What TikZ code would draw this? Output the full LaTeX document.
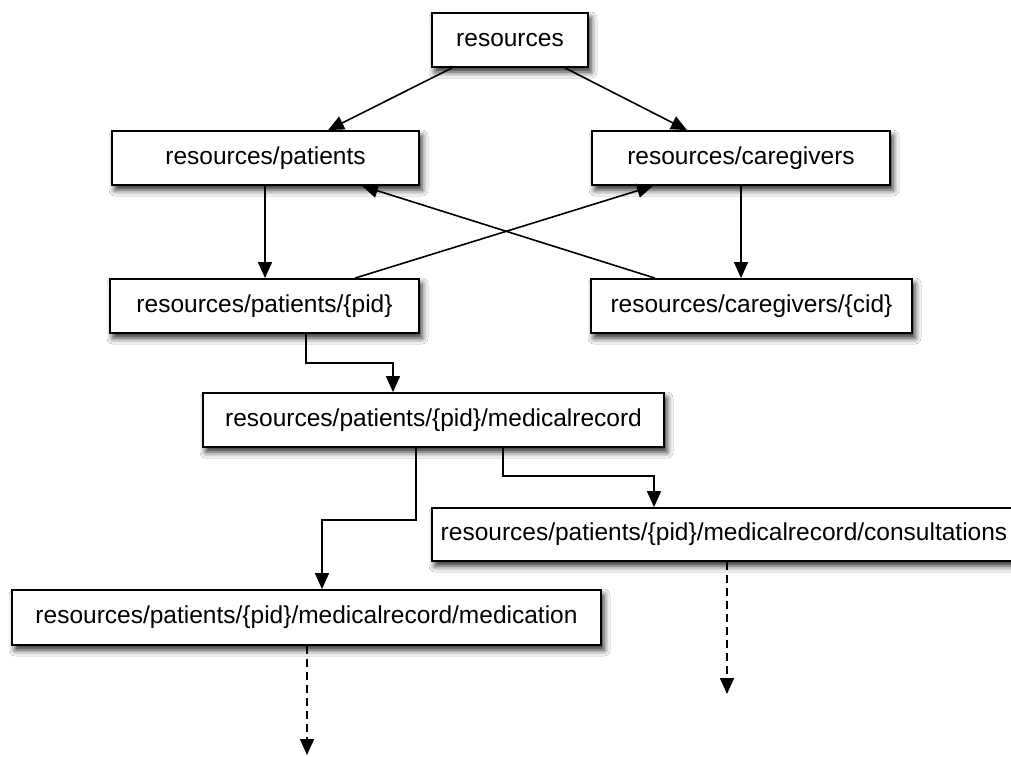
\documentclass[tikz,border=0pt]{standalone}
\usepackage{fontspec}
\setmainfont{Liberation Sans}
\usetikzlibrary{arrows.meta,shadows.blur}
\begin{document}
\begin{tikzpicture}[x=1pt,y=-1pt,
  box/.style={draw=black,line width=1.8pt,fill=white,inner sep=0pt,minimum height=54pt,
    font=\fontsize{24.5}{28}\selectfont,
    blur shadow={shadow xshift=3pt,shadow yshift=-5pt,shadow blur radius=6pt,shadow opacity=85}},
  arr/.style={line width=1.6pt,-{Triangle[length=16pt,width=14pt]}},
  darr/.style={arr,dash pattern=on 8pt off 5pt}]
\useasboundingbox (0,0) rectangle (1011,756);
\fill[white] (0,0) rectangle (1011,756);
\node[box,minimum width=156pt] (res) at (510,40) {resources};
\node[box,minimum width=307pt] (pat) at (265.5,158) {resources/patients};
\node[box,minimum width=298pt] (car) at (741,158) {resources/caregivers};
\node[box,minimum width=309pt] (pid) at (264.5,306) {resources/patients/\{pid\}};
\node[box,minimum width=321pt] (cid) at (751.5,306) {resources/caregivers/\{cid\}};
\node[box,minimum width=461pt] (mr) at (433.5,420) {resources/patients/\{pid\}/medicalrecord};
\node[box,minimum width=584pt,minimum height=53pt] (con) at (724,534.5) {resources/patients/\{pid\}/medicalrecord/consultations};
\node[box,minimum width=589pt,minimum height=55pt] (med) at (306.5,617.5) {resources/patients/\{pid\}/medicalrecord/medication};
\coordinate (e1) at (727,694);
\coordinate (e2) at (307,755);
\draw[arr] (452,0 |- res.south) -- (328,0 |- pat.north);
\draw[arr] (565,0 |- res.south) -- (687,0 |- car.north);
\draw[arr] (265,0 |- pat.south) -- (265,0 |- pid.north);
\draw[arr] (741,0 |- car.south) -- (741,0 |- cid.north);
\draw[arr] (655,0 |- cid.north) -- (362,0 |- pat.south);
\draw[arr] (355,0 |- pid.north) -- (653,0 |- car.south);
\draw[arr] (306,0 |- pid.south) |- (393,363) -- (393,0 |- mr.north);
\draw[arr] (416,0 |- mr.south) |- (322,520) -- (322,0 |- med.north);
\draw[arr] (503,0 |- mr.south) |- (654,476) -- (654,0 |- con.north);
\draw[darr] (727,0 |- con.south) -- (e1);
\draw[darr] (307,0 |- med.south) -- (e2);
\end{tikzpicture}
\end{document}
